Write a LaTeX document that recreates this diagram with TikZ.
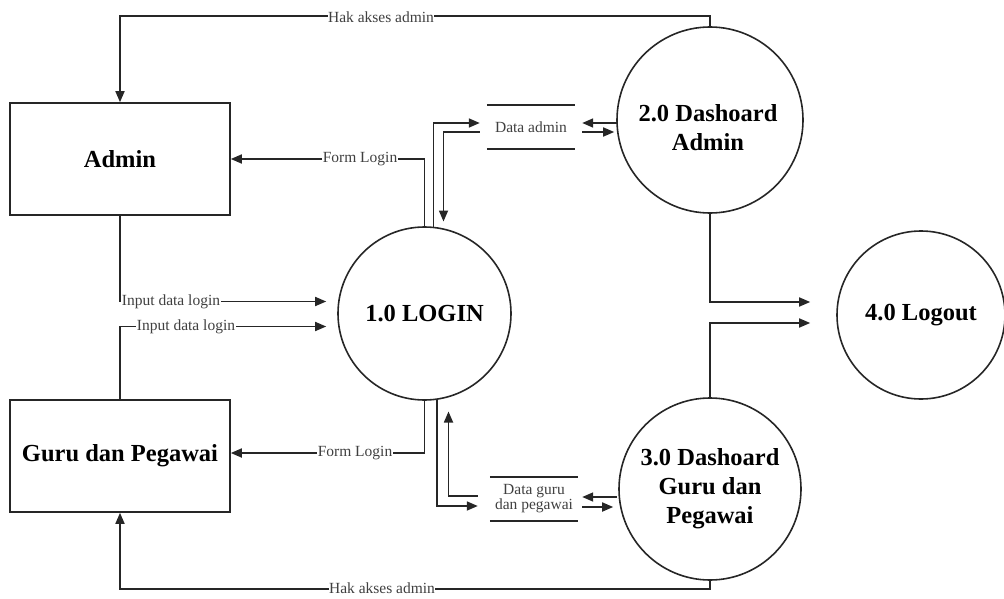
\documentclass[tikz,border=0pt]{standalone}
\usepackage{fontspec}
\setmainfont{Liberation Serif}
\usetikzlibrary{arrows.meta,calc}
\tikzset{
  conn/.style={line width=1.7pt, draw=black!85},
  arr/.style={conn, -{Triangle[length=11pt,width=9pt]}},
  ent/.style={draw=black!85, line width=1.6pt, minimum width=220pt, minimum height=112pt, inner sep=0pt,
    font=\fontsize{24.5}{29}\selectfont\bfseries, align=center},
  proc/.style={draw=black!85, line width=1.6pt, circle, inner sep=0pt,
    font=\fontsize{24.5}{29}\selectfont\bfseries, align=center},
  store/.style={minimum width=88pt, minimum height=44pt, inner sep=0pt, align=center,
    font=\fontsize{15.5}{15}\selectfont, text=black!75},
  storeline/.style={line width=1.7pt, draw=black!85},
  lbl/.style={fill=white, inner sep=0.5pt, font=\fontsize{15.5}{16}\selectfont, text=black!75},
}
\begin{document}
\begin{tikzpicture}[x=1pt,y=-1pt]
\useasboundingbox (0,0) rectangle (1004,599);
% entities
\node[ent] (admin) at (120,159) {Admin};
\node[ent] (guru) at (120,456) {Guru dan Pegawai};
% processes
\node[proc, minimum size=173pt] (login) at (424.5,313.5) {1.0 LOGIN};
\node[proc, minimum size=186pt] (dadmin) at (710,120) {};
\node[font=\fontsize{24.5}{29}\selectfont\bfseries, align=center] (dadmintxt) at (708,128) {2.0 Dashoard\\Admin};
\node[proc, minimum size=182pt] (dguru) at (710,489) {3.0 Dashoard\\Guru dan\\Pegawai};
\node[proc, minimum size=168pt] (logout) at (921,315) {4.0 Logout};
% data stores
\node[store] (da) at (531,127) {Data admin};
\draw[storeline] (da.north west) -- (da.north east);
\draw[storeline] (da.south west) -- (da.south east);
\node[store] (dg) at (534,499) {Data guru\\dan pegawai};
\draw[storeline] (dg.north west) -- (dg.north east);
\draw[storeline] (dg.south west) -- (dg.south east);
% Hak akses admin (top)
\draw[arr] (dadmin.north) -- ++(0,-10) -| (admin.north);
\node[lbl] (hak1) at (381,17) {Hak akses admin};
% Hak akses admin (bottom)
\draw[arr] (dguru.south) -- ++(0,8) -| (guru.south);
\node[lbl] (hak2) at (382,588) {Hak akses admin};
% Form Login
\draw[arr] (login.north) |- (admin.east);
\node[lbl] (fl1) at (360,159) {Form Login};
\draw[arr] (login.south) |- ($(guru.east)+(0,-3)$);
\node[lbl] (fl2) at (355,453) {Form Login};
% Input data login
\draw[arr] (admin.south) |- ($(login.west)+(-11,-12)$);
\node[lbl] (idl1) at (171,302) {Input data login};
\draw[arr] (guru.north) |- ($(login.west)+(-11,13)$);
\node[lbl] (idl2) at (186,327) {Input data login};
% Login <-> Data admin
\draw[arr] (login.84) |- ($(da.west)+(-7,-4)$);
\draw[arr] ($(da.west)+(-7,5)$) -| ($(login.center)+(19,-92)$);
\draw[arr] ($(da.east)+(42,-4)$) -- ($(da.east)+(7,-4)$);
\draw[arr] ($(da.east)+(7,5)$) -- ($(da.east)+(39,5)$);
% Login <-> Data guru
\draw[arr] (login.-82) |- ($(dg.west)+(-12,7)$);
\draw[arr] ($(dg.west)+(-12,-3)$) -| ($(login.center)+(24,98)$);
\draw[arr] ($(dg.east)+(39,-2)$) -- ($(dg.east)+(4,-2)$);
\draw[arr] ($(dg.east)+(4,8)$) -- ($(dg.east)+(35,8)$);
% to Logout
\draw[arr] (dadmin.south) |- ($(logout.west)+(-26,-13)$);
\draw[arr] (dguru.north) |- ($(logout.west)+(-26,8)$);
\end{tikzpicture}
\end{document}
